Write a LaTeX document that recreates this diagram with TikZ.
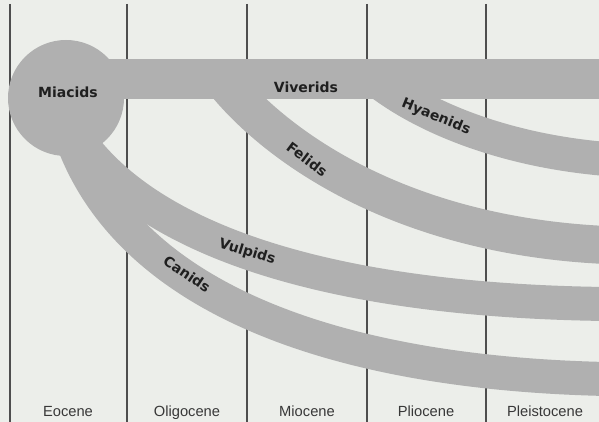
\documentclass[tikz,border=0pt]{standalone}
\usepackage{fontspec}
\newfontfamily\cladefont{DejaVu Sans}
\newfontfamily\erafont{Liberation Sans}
\usetikzlibrary{positioning}
\definecolor{paper}{RGB}{236,238,234}
\definecolor{bandgray}{RGB}{176,176,176}
\definecolor{rulegray}{RGB}{78,78,78}

\begin{document}
\begin{tikzpicture}[x=1pt, y=-1pt,
  band/.style={draw=bandgray, line width=34pt, line cap=butt},
  clade/.style={font=\cladefont\bfseries\fontsize{14}{16}\selectfont, text=black!88, inner sep=0pt},
  era/.style={font=\erafont\fontsize{14.7}{17}\selectfont, text=black!78, inner sep=0pt, anchor=base}]
  \useasboundingbox[fill=paper] (0,0) rectangle (599,422);
  \clip (0,0) rectangle (599,422);
  % epoch boundaries
  \foreach \x in {10,127,247,367,486}
    \draw[rulegray, line width=2.5pt] (\x,4) -- (\x,424);
  % ancestor and lineages
  \node[circle, fill=bandgray, minimum size=116pt, inner sep=0pt] (M) at (66,98) {};
  \coordinate (vivS) at (66,79);   \coordinate (vivE) at (606,79);
  \coordinate (hyaS) at (375,79);  \coordinate (hyaE) at (606,159);
  \coordinate (felS) at (222,79);  \coordinate (felE) at (606,245);
  \coordinate (vulS) at (66,120);  \coordinate (vulE) at (606,304);
  \coordinate (canS) at (66,120);  \coordinate (canE) at (606,379);
  \draw[band, line width=40pt] (vivS) -- (vivE);
  \draw[band] (hyaS) .. controls (420,115) and (500,150) .. (hyaE);
  \draw[band, line width=38pt] (felS) .. controls (268,138) and (390,235) .. (felE);
  \draw[band] (vulS) .. controls (125,228) and (300,300) .. (vulE);
  \draw[band] (canS) .. controls (110,280) and (300,372) .. (canE);
  % names
  \node[clade] (mia) at (68,92) {Miacids};
  \node[clade] (viv) at (306,87) {Viverids};
  \node[clade, rotate=-22] (hya) at (436,117) {Hyaenids};
  \node[clade, rotate=-37] (fel) at (307,159) {Felids};
  \node[clade, rotate=-17] (vul) at (247,252) {Vulpids};
  \node[clade, rotate=-34] (can) at (187,274) {Canids};
  \node[era] (eoc) at (68,416) {Eocene};
  \node[era] (oli) at (187,416) {Oligocene};
  \node[era] (mio) at (307,416) {Miocene};
  \node[era] (pli) at (426,416) {Pliocene};
  \node[era] (ple) at (545,416) {Pleistocene};
\end{tikzpicture}
\end{document}
